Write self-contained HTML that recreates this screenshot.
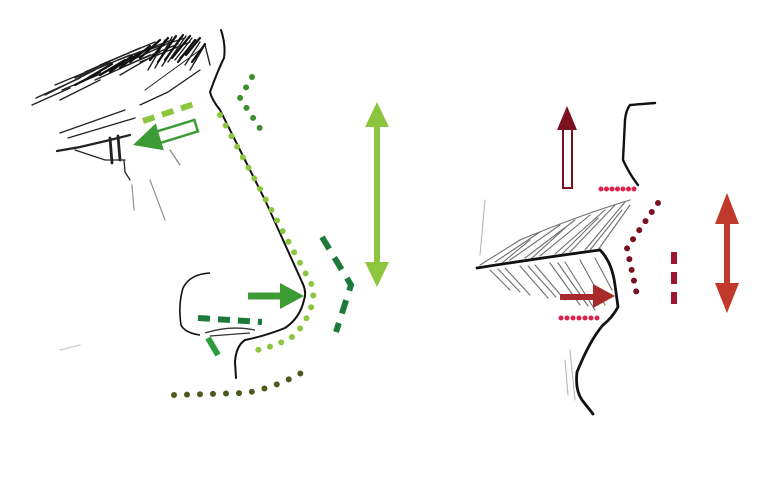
<!DOCTYPE html>
<html><head><meta charset="utf-8"><style>html,body{margin:0;padding:0;background:#fff;}svg{display:block}</style></head>
<body>
<svg width="768" height="480" viewBox="0 0 768 480" xmlns="http://www.w3.org/2000/svg">
<rect width="768" height="480" fill="#fff"/>
<!-- eyebrow hatching -->
<g stroke="#222" stroke-width="1.4" stroke-linecap="round" fill="none">
<path d="M32 105 L70 88"/><path d="M36 98 L80 78"/><path d="M45 95 L95 70"/><path d="M55 85 L110 62"/>
<path d="M62 90 L115 68"/><path d="M75 78 L130 55"/><path d="M85 72 L140 48"/><path d="M95 80 L150 55"/>
<path d="M100 65 L155 42"/><path d="M110 70 L165 45"/><path d="M118 60 L172 40"/><path d="M125 66 L178 44"/>
<path d="M132 55 L185 38"/><path d="M140 62 L190 42"/><path d="M148 70 L165 40"/><path d="M155 68 L172 37"/>
<path d="M162 66 L180 38"/><path d="M168 62 L186 36"/><path d="M175 60 L192 38"/><path d="M180 58 L196 40"/>
<path d="M185 65 L200 42"/><path d="M190 70 L203 48"/><path d="M60 100 L100 80"/><path d="M120 75 L160 52"/>
<path d="M145 90 L200 50" stroke-width="1"/><path d="M205 45 L210 65"/>
</g>
<g stroke="#111" stroke-width="2.2" stroke-linecap="round" fill="none">
<path d="M150 60 L168 38"/><path d="M158 62 L176 36"/><path d="M165 60 L183 35"/><path d="M172 58 L190 36"/>
<path d="M178 62 L195 40"/><path d="M140 58 L160 40"/><path d="M130 62 L150 46"/><path d="M186 55 L200 38"/>
<path d="M120 68 L140 52"/><path d="M110 72 L132 56"/><path d="M192 62 L205 44"/><path d="M100 75 L125 60"/>
<path d="M88 78 L112 64"/><path d="M75 85 L100 72"/>
</g>
<!-- eye area -->
<g stroke="#222" stroke-width="1.3" fill="none" stroke-linecap="round">
<path d="M60 133 L125 110"/><path d="M68 138 L135 118"/><path d="M140 105 L168 92 L200 70"/>
<path d="M57 151 L80 147 L110 140 L130 135" stroke-width="2.2"/>
<path d="M75 150 L105 160 L125 160"/>
<path d="M110 138 L112 163 M118 136 L120 160" stroke-width="2.8"/>
<path d="M124 160 L125 172 L130 180"/>
<path d="M170 150 L180 165" stroke="#888"/>
<path d="M132 185 L134 210 M150 180 L165 220" stroke="#999"/>
<path d="M60 350 L80 345" stroke="#ccc"/>
</g>
<!-- nose profile -->
<path d="M221 30 Q226 45 224 58 Q218 70 210 92 Q212 100 220 110 L265 200 L302 282 Q307 292 304 300 Q300 318 285 328 Q265 336 245 340 Q236 346 235 362 L236 378" stroke="#111" stroke-width="2" fill="none" stroke-linecap="round"/>
<path d="M210 273 Q190 274 183 288 Q178 305 181 325 Q185 333 200 335" stroke="#111" stroke-width="1.6" fill="none"/>
<path d="M205 333 Q230 325 255 330 M210 336 L250 333" stroke="#333" stroke-width="1.3" fill="none"/>
<!-- light green dashed (eye) -->
<path d="M143 121 L200 102" stroke="#8cc63f" stroke-width="6" stroke-dasharray="12 8" fill="none"/>
<!-- outline arrow to eye -->
<g transform="translate(133,145) rotate(-17)">
<rect x="26" y="-6" width="40" height="12" fill="#fff" stroke="#3d9b35" stroke-width="2.5"/>
<polygon points="0,0 28,-14 28,14" fill="#3d9b35"/>
</g>
<!-- light green dotted along nose -->
<path d="M220 115 L313 287 Q316 310 295 335 Q280 345 257 350" stroke="#8cc63f" stroke-width="6" stroke-linecap="round" stroke-dasharray="0 12" fill="none"/>
<!-- darker green dotted -->
<path d="M252 77 L240 98 L263 133" stroke="#3d8f2e" stroke-width="6" stroke-linecap="round" stroke-dasharray="0 12" fill="none"/>
<!-- dark green dashed chevron -->
<path d="M322 237 L351 285 L336 332" stroke="#1e7a3a" stroke-width="6" stroke-dasharray="14 10" fill="none"/>
<!-- double arrow light green -->
<line x1="377" y1="125" x2="377" y2="265" stroke="#8cc63f" stroke-width="6"/>
<polygon points="377,102 365,127 389,127" fill="#8cc63f"/>
<polygon points="377,287 365,262 389,262" fill="#8cc63f"/>
<!-- green arrow right -->
<line x1="248" y1="296" x2="282" y2="296" stroke="#3d9b35" stroke-width="7"/>
<polygon points="304,296 280,283 280,309" fill="#3d9b35"/>
<!-- dark green dashes below nose -->
<path d="M198 318 L262 322" stroke="#1e7a3a" stroke-width="6" stroke-dasharray="12 8" fill="none"/>
<line x1="208" y1="338" x2="218" y2="355" stroke="#2e9a3e" stroke-width="6"/>
<!-- olive dotted -->
<path d="M174 395 L245 393 Q275 388 303 372" stroke="#4a5a1e" stroke-width="6" stroke-linecap="round" stroke-dasharray="0 13" fill="none"/>

<!-- RIGHT: mouth -->
<g stroke="#555" stroke-width="1.1" fill="none" stroke-linecap="round" opacity="0.85">
<path d="M480 265 L520 240"/><path d="M495 262 L540 232"/><path d="M510 260 L560 225"/><path d="M525 258 L575 220"/>
<path d="M540 256 L590 215"/><path d="M555 254 L605 210"/><path d="M570 252 L615 205"/><path d="M585 250 L625 202"/>
<path d="M598 250 L630 205"/><path d="M520 240 Q580 215 630 200"/>
<path d="M502 263 L530 240"/><path d="M532 258 L565 228"/><path d="M562 254 L598 218"/><path d="M590 250 L622 210"/>
<path d="M490 270 L510 290"/><path d="M505 268 L530 295"/><path d="M520 266 L548 298"/><path d="M535 265 L565 300"/>
<path d="M550 263 L580 305"/><path d="M565 262 L595 310"/><path d="M580 260 L605 305"/><path d="M595 258 L612 290"/>
<path d="M498 269 L520 292"/><path d="M528 266 L556 297"/><path d="M558 263 L588 306"/>
<path d="M485 200 L480 255" stroke="#aaa"/><path d="M570 350 L575 400 M565 360 L568 395" stroke="#aaa"/>
</g>
<g stroke="#111" fill="none" stroke-linecap="round">
<path d="M655 103 L630 105 Q626 110 625 120 L623 160 Q630 175 638 185" stroke-width="2.4"/>
<path d="M477 268 Q540 258 600 250 Q612 262 615 285 L618 307 Q612 318 603 325 Q590 340 577 372 Q575 390 582 400 L593 414" stroke-width="2.8"/>
</g>
<!-- outline arrow up dark red -->
<rect x="563" y="128" width="9" height="60" fill="#fff" stroke="#7a1020" stroke-width="2"/>
<polygon points="567,106 557,130 577,130" fill="#7a1020"/>
<!-- pink dotted -->
<path d="M601 189 L636 189" stroke="#e0204a" stroke-width="5" stroke-linecap="round" stroke-dasharray="0 5.5" fill="none"/>
<path d="M561 318 L603 318" stroke="#e0204a" stroke-width="5" stroke-linecap="round" stroke-dasharray="0 6" fill="none"/>
<!-- dark red dotted -->
<path d="M658 203 L627 248 L637 295" stroke="#7a1020" stroke-width="6" stroke-linecap="round" stroke-dasharray="0 11" fill="none"/>
<!-- dashed vertical -->
<path d="M674 252 L674 305" stroke="#a01530" stroke-width="6" stroke-dasharray="12 8" fill="none"/>
<!-- red double arrow -->
<line x1="727" y1="215" x2="727" y2="292" stroke="#c0392b" stroke-width="6"/>
<polygon points="727,193 715,224 739,224" fill="#c0392b"/>
<polygon points="727,313 715,283 739,283" fill="#c0392b"/>
<!-- red arrow right -->
<line x1="560" y1="297" x2="595" y2="297" stroke="#a82a2a" stroke-width="6"/>
<polygon points="615,296 593,284 593,308" fill="#a82a2a"/>
</svg>
</body></html>
